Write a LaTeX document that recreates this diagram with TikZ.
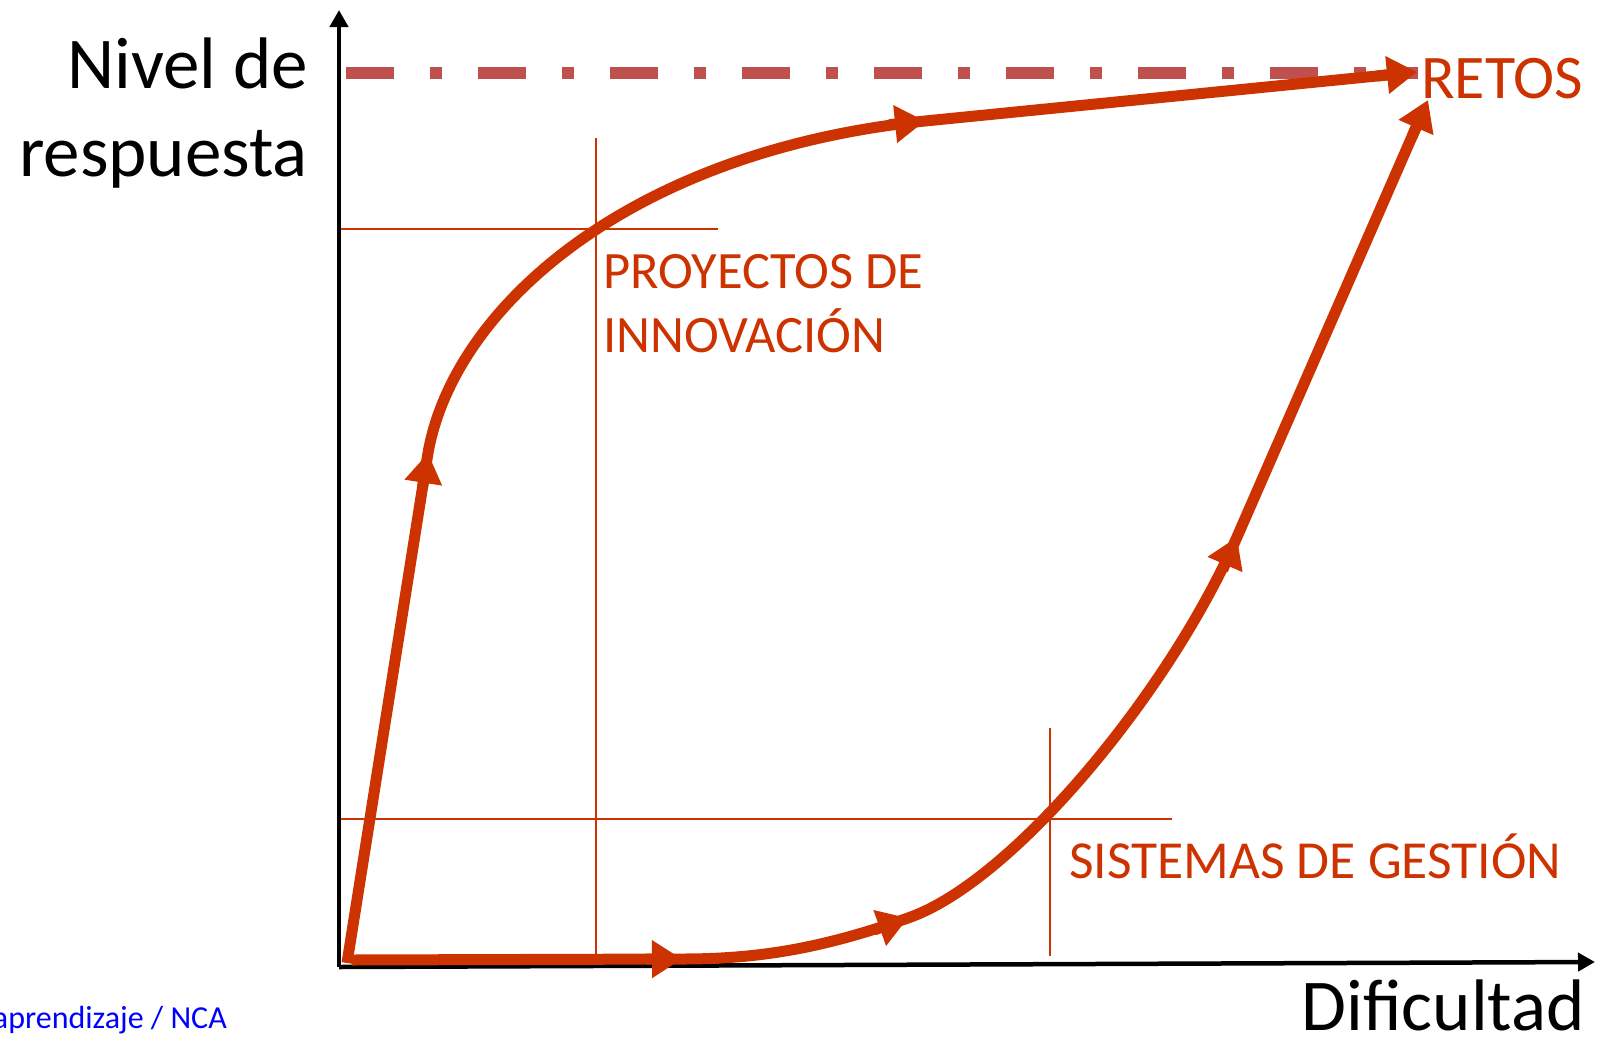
\documentclass[tikz,border=0pt]{standalone}
\usepackage{fontspec}
\setmainfont{Carlito}
\usetikzlibrary{arrows.meta,calc}
\definecolor{curvecol}{HTML}{CC3300}
\definecolor{dashcol}{HTML}{C0504D}
\tikzset{
  curveline/.style={line width=11pt, draw=curvecol, line join=round},
  curve/.style={line width=11pt, draw=curvecol, -{Triangle[length=30pt,width=36pt]}},
  guide/.style={line width=2pt, draw=curvecol},
  axis/.style={line width=4.5pt, draw=black, -{Triangle[length=17pt,width=18pt]}},
  dashline/.style={line width=12pt, draw=dashcol, dash pattern=on 48pt off 36pt on 12pt off 36pt},
  lbl/.style={inner sep=0pt, text=curvecol},
  axlbl/.style={inner sep=0pt, text=black, font=\fontsize{73}{80}\selectfont}
}
\begin{document}
\begin{tikzpicture}[x=1pt,y=-1pt]
\useasboundingbox (0,0) rectangle (1599,1039);

% guide lines
\coordinate (g1a) at (339,229);
\coordinate (g1b) at (718,229);
\coordinate (g1c) at (596,138);
\coordinate (g1d) at (596,967);
\coordinate (g2a) at (339,819);
\coordinate (g2b) at (1172,819);
\coordinate (g2c) at (1050,728);
\coordinate (g2d) at (1050,956);
\draw[guide] (g1a) -- (g1b);
\draw[guide] (g1c) -- (g1d);
\draw[guide] (g2a) -- (g2b);
\draw[guide] (g2c) -- (g2d);

% axes
\coordinate (O) at (339,967);
\coordinate (Ytop) at (339,10);
\coordinate (Xend) at (1595,962);
\draw[axis] (O) -- (Ytop);
\draw[axis] (O) -- (Xend);

% dashed level line
\coordinate (L0) at (346,73);
\coordinate (L1) at (1418,73);
\draw[dashline] (L0) -- (L1);

% upper path (innovation projects)
\coordinate (P0) at (347,963);
\coordinate (A) at (428,453);
\coordinate (a1) at (454,306);
\coordinate (a2) at (632,151);
\coordinate (B) at (925,121);
\coordinate (C) at (1417,72);
\draw[curveline] (P0) -- (A) .. controls (a1) and (a2) .. (B) -- ($(C)!28pt!(B)$);
\draw[curve] ($(A)!36pt!(P0)$) -- (A);
\draw[curve] ($(B)!36pt!(a2)$) -- (B);
\draw[curve] ($(C)!40pt!(B)$) -- (C);

% lower path (management systems)
\coordinate (Q0) at (352,960);
\coordinate (D) at (682,959);
\coordinate (d1) at (760,959);
\coordinate (d2) at (823,948);
\coordinate (E) at (908,918);
\coordinate (e1) at (1012,882);
\coordinate (e2) at (1169,693);
\coordinate (F) at (1237,537);
\coordinate (G) at (1428,100);
\draw[curveline] (Q0) -- (D) .. controls (d1) and (d2) .. (E)
  .. controls (e1) and (e2) .. (F) -- ($(G)!28pt!(F)$);
\draw[curve] ($(D)!36pt!(Q0)$) -- (D);
\draw[curve] ($(E)!36pt!(d2)$) -- (E);
\draw[curve] ($(F)!36pt!(e2)$) -- (F);
\draw[curve] ($(G)!40pt!(F)$) -- (G);

% labels
\node[lbl, anchor=base west, font=\fontsize{52.5}{60}\selectfont] (pro1) at (603,288) {PROYECTOS DE};
\node[lbl, anchor=base west, font=\fontsize{52.5}{60}\selectfont] (pro2) at (603,352) {INNOVACIÓN};
\node[lbl, anchor=base west, font=\fontsize{62}{70}\selectfont] (retos) at (1421,98) {RETOS};
\node[lbl, anchor=base west, font=\fontsize{53.5}{60}\selectfont] (sis) at (1069,878) {SISTEMAS DE GESTIÓN};
\node[axlbl, anchor=base east] (ny1) at (308,88) {Nivel de};
\node[axlbl, anchor=base east] (ny2) at (308,176) {respuesta};
\node[axlbl, anchor=base east] (xl) at (1585,1030) {Dificultad};
\node[inner sep=0pt, anchor=base east, text=blue, font=\fontsize{32}{36}\selectfont] (src) at (227,1028) {aprendizaje / NCA};
\end{tikzpicture}
\end{document}
